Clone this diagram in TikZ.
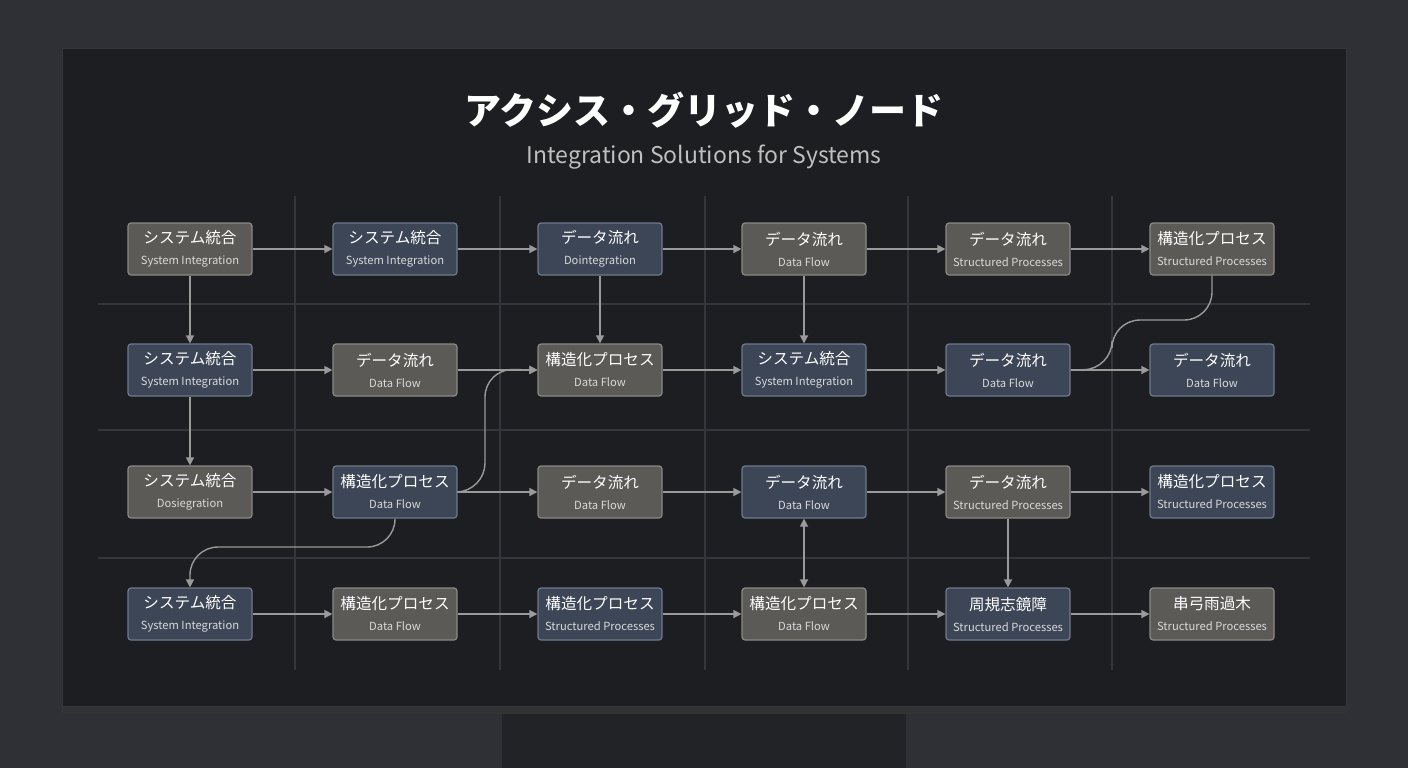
\documentclass[tikz,border=0pt]{standalone}
\usepackage{fontspec}
\setmainfont{Noto Sans CJK JP}
\usetikzlibrary{arrows.meta}
\definecolor{bgc}{HTML}{2E3036}
\definecolor{panel}{HTML}{1D1E21}
\definecolor{grayf}{HTML}{5B5A57}
\definecolor{grayd}{HTML}{8A8985}
\definecolor{bluef}{HTML}{3C4656}
\definecolor{blued}{HTML}{6E7A8C}
\definecolor{gridc}{HTML}{34363B}
\definecolor{arr}{HTML}{9A9A9A}
\definecolor{stand}{HTML}{222327}
\tikzset{
 box/.style={rounded corners=1.5pt, minimum width=62pt, minimum height=26pt, inner sep=0pt, align=center, text=white, line width=0.6pt},
 gb/.style={box, fill=grayf, draw=grayd},
 bb/.style={box, fill=bluef, draw=blued},
 con/.style={draw=arr, line width=0.7pt, -{Triangle[length=4pt,width=4pt]}},
}
\newcommand{\nd}[6]{%
 \foreach \g/\o in {9/0.04,6/0.05,3/0.07}{\fill[white,opacity=\o,rounded corners=4pt] (#2-31-\g*0.5,#3-13-\g*0.5) rectangle (#2+31+\g*0.5,#3+13+\g*0.5);}
 \node[#4] (#1) at (#2,#3+1) {{\fontsize{7.8}{9}\selectfont #5}\\[-1.5pt]{\fontsize{5.6}{7}\selectfont\color{white!85!black} #6}};}
\begin{document}
\begin{tikzpicture}[x=0.5pt,y=-0.5pt]
\useasboundingbox (0,0) rectangle (1408,768);
\fill[bgc] (0,0) rectangle (1408,768);
\fill[stand] (502,712) rectangle (906,768);
\fill[black!80] (62,704) rectangle (1346,714);
\fill[panel] (62,48) rectangle (1346,706);
\draw[gridc] (62,48) rectangle (1346,706);
\node[text=white,font=\fontsize{18.5}{22}\selectfont\bfseries] (title) at (704,110) {アクシス・グリッド・ノード};
\node[text=white!75!black,font=\fontsize{11.5}{14}\selectfont] (sub) at (704,157) {Integration Solutions for Systems};
\foreach \x in {295,500,705,908,1112} \draw[gridc,line width=0.7pt] (\x,196) -- (\x,670);
\foreach \y in {304,430,558} \draw[gridc,line width=0.7pt] (98,\y) -- (1310,\y);
% row 1
\nd{a1}{190}{248}{gb}{システム統合}{System Integration}
\nd{a2}{395}{248}{bb}{システム統合}{System Integration}
\nd{a3}{600}{248}{bb}{データ流れ}{Dointegration}
\nd{a4}{804}{248}{gb}{データ流れ}{Data Flow}
\nd{a5}{1008}{248}{gb}{データ流れ}{Structured Processes}
\nd{a6}{1212}{248}{gb}{構造化プロセス}{Structured Processes}
% row 2
\nd{b1}{190}{369}{bb}{システム統合}{System Integration}
\nd{b2}{395}{369}{gb}{データ流れ}{Data Flow}
\nd{b3}{600}{369}{gb}{構造化プロセス}{Data Flow}
\nd{b4}{804}{369}{bb}{システム統合}{System Integration}
\nd{b5}{1008}{369}{bb}{データ流れ}{Data Flow}
\nd{b6}{1212}{369}{bb}{データ流れ}{Data Flow}
% row 3
\nd{c1}{190}{491}{gb}{システム統合}{Dosiegration}
\nd{c2}{395}{491}{bb}{構造化プロセス}{Data Flow}
\nd{c3}{600}{491}{gb}{データ流れ}{Data Flow}
\nd{c4}{804}{491}{bb}{データ流れ}{Data Flow}
\nd{c5}{1008}{491}{gb}{データ流れ}{Structured Processes}
\nd{c6}{1212}{491}{bb}{構造化プロセス}{Structured Processes}
% row 4
\nd{d1}{190}{613}{bb}{システム統合}{System Integration}
\nd{d2}{395}{613}{gb}{構造化プロセス}{Data Flow}
\nd{d3}{600}{613}{bb}{構造化プロセス}{Structured Processes}
\nd{d4}{804}{613}{gb}{構造化プロセス}{Data Flow}
\nd{d5}{1008}{613}{bb}{周規志鏡障}{Structured Processes}
\nd{d6}{1212}{613}{gb}{串弓雨過木}{Structured Processes}
% horizontal
\foreach \r in {a,b,c,d}{
 \draw[con] (\r1) -- (\r2); \draw[con] (\r2) -- (\r3); \draw[con] (\r3) -- (\r4);
 \draw[con] (\r4) -- (\r5); \draw[con] (\r5) -- (\r6);}
% vertical
\draw[con] (a1) -- (b1);
\draw[con] (b1) -- (c1);
\draw[con] (a3) -- (b3);
\draw[con] (a4) -- (b4);
\draw[con] (c5) -- (d5);
\draw[draw=arr,line width=0.7pt,{Triangle[length=4pt,width=4pt]}-{Triangle[length=4pt,width=4pt]}] (c4) -- (d4);
% curves
\draw[draw=arr,line width=0.7pt,rounded corners=14pt] (b5.east) -- (1112,369) -- (1112,320) -- (1212,320) -- (a6.south);
\draw[con,rounded corners=14pt] (c2.east) -- (485,491) -- (485,369) -- (b3.west);
\draw[con,rounded corners=14pt] (c2.south) -- (395,547) -- (190,547) -- (d1.north);
\end{tikzpicture}
\end{document}
